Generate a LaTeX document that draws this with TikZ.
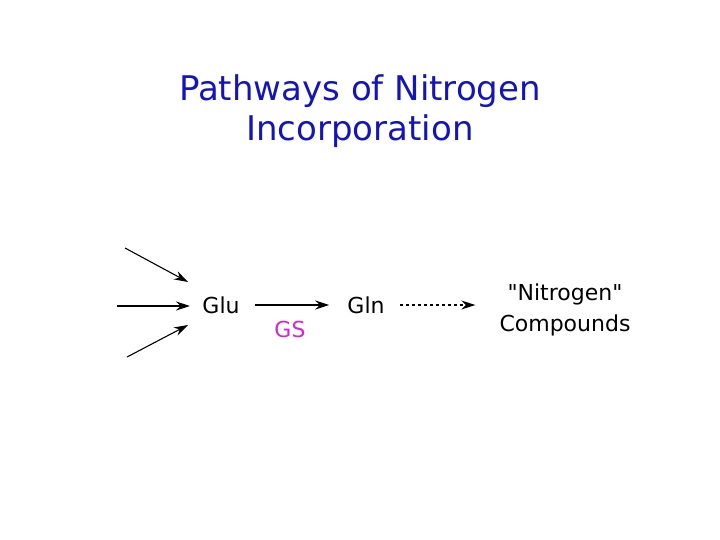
\documentclass[tikz,border=0pt]{standalone}
\usepackage{fontspec}
\setmainfont{DejaVu Sans}
\newfontfamily\qf{DejaVu Sans}
\newcommand{\sq}{{\qf "}}
\usetikzlibrary{arrows.meta}
\definecolor{ttl}{RGB}{20,20,190}
\definecolor{mag}{RGB}{210,40,210}
\begin{document}
\begin{tikzpicture}[x=1pt,y=-1pt,
  lbl/.style={font=\fontsize{22}{26}\selectfont, inner sep=1pt},
  arr/.style={-{Stealth[length=14pt,width=9pt]}, line width=1.1pt}]
\useasboundingbox (0,0) rectangle (720,540);
\node[font=\fontsize{34}{40}\selectfont, text=ttl, align=center] (title) at (360,111) {Pathways of Nitrogen\\Incorporation};
\node[lbl] (glu) at (221,305) {Glu};
\node[lbl] (gln) at (366,305) {Gln};
\node[lbl, text=mag] (gs) at (290,329) {GS};
\node[lbl, align=center, font=\fontsize{22}{31}\selectfont] (nc) at (565,310) {\sq Nitrogen\sq\\Compounds};
\coordinate (a1) at (125,248); \coordinate (a1e) at (188,282);
\coordinate (a2) at (117,306); \coordinate (a2e) at (190,306);
\coordinate (a3) at (127,357); \coordinate (a3e) at (188,325);
\draw[arr] (a1) -- (a1e);
\draw[arr] (a2) -- (a2e);
\draw[arr] (a3) -- (a3e);
\draw[arr] ([xshift=14pt]glu.east) -- ([xshift=-17pt]gln.west);
\draw[arr, dashed] ([xshift=14pt]gln.east) -- ([xshift=-23pt]nc.west |- gln.east);
\end{tikzpicture}
\end{document}
